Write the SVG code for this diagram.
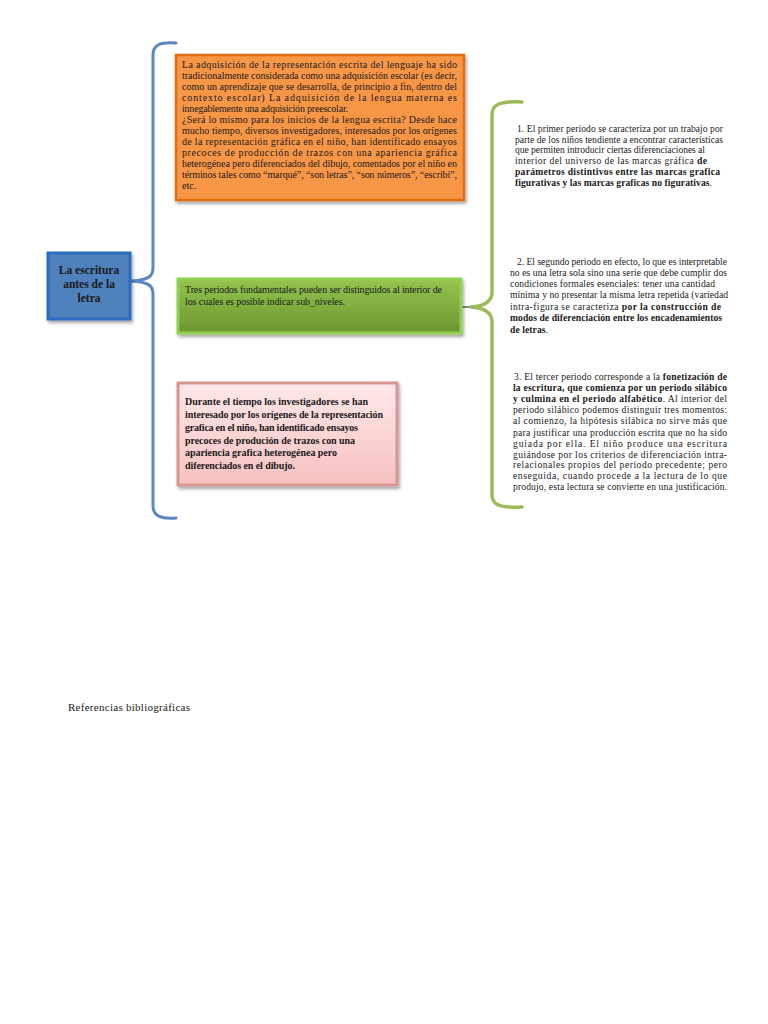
<svg xmlns="http://www.w3.org/2000/svg" width="768" height="1024" viewBox="0 0 768 1024">
<defs>
<filter id="sh" x="-10%" y="-10%" width="130%" height="140%">
<feDropShadow dx="1.5" dy="2.5" stdDeviation="1.5" flood-color="#000" flood-opacity="0.35"/>
</filter>
<linearGradient id="gGreen" x1="0" y1="0" x2="0" y2="1">
<stop offset="0" stop-color="#94c54f"/>
<stop offset="1" stop-color="#6c9630"/>
</linearGradient>
<linearGradient id="gPink" x1="0" y1="0" x2="0" y2="1">
<stop offset="0" stop-color="#ffe8e8"/>
<stop offset="1" stop-color="#f7c1c1"/>
</linearGradient>
</defs>
<style>
text{font-family:"Liberation Serif","Times New Roman",serif;fill:#1a1a1a}
.o{font-size:10px}
.g{font-size:10px}
.p{font-size:10px;font-weight:bold}
.r{font-size:9.6px}
.b{font-weight:bold}
.n{font-size:11.5px;font-weight:bold;text-anchor:middle}
.brace{fill:none;stroke-linecap:round;stroke-linejoin:round}
</style>
<rect width="768" height="1024" fill="#ffffff"/>

<g id="connectors">
<path class="brace" d="M176,43 C161,42 153,44 153,55 L153,268 C153,276 149,280 131,281 C149,282 153,286 153,294 L153,506 C153,516 161,519 176,518" stroke="#5a87c2" stroke-width="3"/>
<line x1="462" y1="307" x2="473" y2="307" stroke="#8a8a8a" stroke-width="2"/>
<path class="brace" d="M522,102 C500,101 492,104 492,115 L492,292 C492,301 486,306 471,307 C486,308 492,313 492,322 L492,495 C492,505 500,508 522,507" stroke="#9bbb59" stroke-width="3.5"/>
</g>

<g id="node-root">
<rect x="48" y="253" width="82" height="66" fill="#4f81bd" stroke="#2a6cc0" stroke-width="3" filter="url(#sh)"/>
<text class="n" x="89" y="274">La escritura</text>
<text class="n" x="89" y="288">antes de la</text>
<text class="n" x="89" y="302">letra</text>
</g>

<g id="node-orange">
<rect x="176" y="55" width="288" height="145" fill="#f79646" stroke="#e46c0a" stroke-width="2.5" filter="url(#sh)"/>
<text class="o" x="182" y="68" textLength="275" lengthAdjust="spacing">La adquisición de la representación escrita del lenguaje ha sido</text>
<text class="o" x="182" y="79" textLength="275" lengthAdjust="spacing">tradicionalmente considerada como una adquisición escolar (es decir,</text>
<text class="o" x="182" y="90" textLength="275" lengthAdjust="spacing">como un aprendizaje que se desarrolla, de principio a fin, dentro del</text>
<text class="o" x="182" y="101" textLength="275" lengthAdjust="spacing">contexto escolar) La adquisición de la lengua materna es</text>
<text class="o" x="182" y="112" textLength="166" lengthAdjust="spacing">innegablemente una adquisición preescolar.</text>
<text class="o" x="182" y="123" textLength="275" lengthAdjust="spacing">¿Será lo mismo para los inicios de la lengua escrita? Desde hace</text>
<text class="o" x="182" y="134" textLength="275" lengthAdjust="spacing">mucho tiempo, diversos investigadores, interesados por los orígenes</text>
<text class="o" x="182" y="145" textLength="275" lengthAdjust="spacing">de la representación gráfica en el niño, han identificado ensayos</text>
<text class="o" x="182" y="156" textLength="275" lengthAdjust="spacing">precoces de producción de trazos con una apariencia gráfica</text>
<text class="o" x="182" y="167" textLength="275" lengthAdjust="spacing">heterogénea pero diferenciados del dibujo, comentados por el niño en</text>
<text class="o" x="182" y="178" textLength="275" lengthAdjust="spacing">términos tales como “marqué”, “son letras”, “son números”, “escribí”,</text>
<text class="o" x="182" y="189">etc.</text>
</g>

<g id="node-green">
<rect x="178" y="279" width="283" height="54" fill="url(#gGreen)" stroke="#92d050" stroke-width="3" filter="url(#sh)"/>
<text class="g" x="185" y="293" textLength="257" lengthAdjust="spacing">Tres periodos fundamentales pueden ser distinguidos al interior de</text>
<text class="g" x="185" y="305" textLength="160" lengthAdjust="spacing">los cuales es posible indicar sub_niveles.</text>
</g>

<g id="node-pink">
<rect x="178" y="383" width="219" height="102" fill="url(#gPink)" stroke="#d99594" stroke-width="3" filter="url(#sh)"/>
<text class="p" x="185" y="405" textLength="183" lengthAdjust="spacing">Durante el tiempo los investigadores  se han</text>
<text class="p" x="185" y="418" textLength="198" lengthAdjust="spacing">interesado por los orígenes de la representación</text>
<text class="p" x="185" y="431" textLength="173" lengthAdjust="spacing">grafica en el niño, han identificado ensayos</text>
<text class="p" x="185" y="444" textLength="170" lengthAdjust="spacing">precoces de produción de trazos con una</text>
<text class="p" x="185" y="456" textLength="152" lengthAdjust="spacing">apariencia grafica heterogénea  pero</text>
<text class="p" x="185" y="469" textLength="110" lengthAdjust="spacing">diferenciados en el dibujo.</text>
</g>

<g id="node-periodo1">
<text class="r" x="517" y="132" textLength="206" lengthAdjust="spacing">1. El primer periodo se caracteriza por un trabajo por</text>
<text class="r" x="515" y="142.6" textLength="208" lengthAdjust="spacing">parte de los niños tendiente a encontrar características</text>
<text class="r" x="515" y="153.2" textLength="190" lengthAdjust="spacing">que permiten introducir ciertas diferenciaciones al</text>
<text class="r" x="515" y="163.8" textLength="192" lengthAdjust="spacing">interior del universo de las marcas gráfica <tspan class="b">de</tspan></text>
<text class="r b" x="515" y="175" textLength="205" lengthAdjust="spacing">parámetros distintivos entre las marcas grafica</text>
<text class="r" x="515" y="186" textLength="197" lengthAdjust="spacing"><tspan class="b">figurativas y las marcas graficas no figurativas</tspan>.</text>
</g>

<g id="node-periodo2">
<text class="r" x="517" y="265" textLength="210" lengthAdjust="spacing">2. El segundo periodo en efecto, lo que es interpretable</text>
<text class="r" x="510" y="276" textLength="217" lengthAdjust="spacing">no es una letra sola sino una serie que debe cumplir dos</text>
<text class="r" x="510" y="287" textLength="205" lengthAdjust="spacing">condiciones formales esenciales: tener una cantidad</text>
<text class="r" x="510" y="298" textLength="218" lengthAdjust="spacing">mínima y no presentar la misma letra repetida (variedad</text>
<text class="r" x="510" y="310" textLength="211" lengthAdjust="spacing">intra-figura se  caracteriza <tspan class="b">por la construcción de</tspan></text>
<text class="r b" x="510" y="321" textLength="212" lengthAdjust="spacing">modos de diferenciación entre los encadenamientos</text>
<text class="r" x="510" y="333" textLength="38" lengthAdjust="spacing"><tspan class="b">de letras</tspan>.</text>
</g>

<g id="node-periodo3">
<text class="r" x="514" y="380" textLength="213" lengthAdjust="spacing">3. El tercer periodo corresponde a la <tspan class="b">fonetización de</tspan></text>
<text class="r b" x="513" y="391" textLength="214" lengthAdjust="spacing">la escritura, que comienza por un periodo silábico</text>
<text class="r" x="513" y="402" textLength="214" lengthAdjust="spacing"><tspan class="b">y culmina en el periodo alfabético</tspan>. Al interior del</text>
<text class="r" x="513" y="413" textLength="214" lengthAdjust="spacing">periodo silábico podemos distinguir tres momentos:</text>
<text class="r" x="513" y="424" textLength="214" lengthAdjust="spacing">al comienzo, la hipótesis silábica no sirve más que</text>
<text class="r" x="513" y="435.5" textLength="214" lengthAdjust="spacing">para justificar una producción escrita que no ha sido</text>
<text class="r" x="513" y="446.5" textLength="214" lengthAdjust="spacing">guiada por ella. El niño produce una escritura</text>
<text class="r" x="513" y="457.5" textLength="214" lengthAdjust="spacing">guiándose por los criterios de diferenciación intra-</text>
<text class="r" x="513" y="468" textLength="214" lengthAdjust="spacing">relacionales propios del periodo precedente; pero</text>
<text class="r" x="513" y="479" textLength="214" lengthAdjust="spacing">enseguida, cuando procede a la lectura de lo que</text>
<text class="r" x="513" y="490" textLength="214" lengthAdjust="spacing">produjo, esta lectura se convierte en una justificación.</text>
</g>

<text x="68" y="711" style="font-size:11px" textLength="122" lengthAdjust="spacing">Referencias bibliográficas</text>
</svg>
